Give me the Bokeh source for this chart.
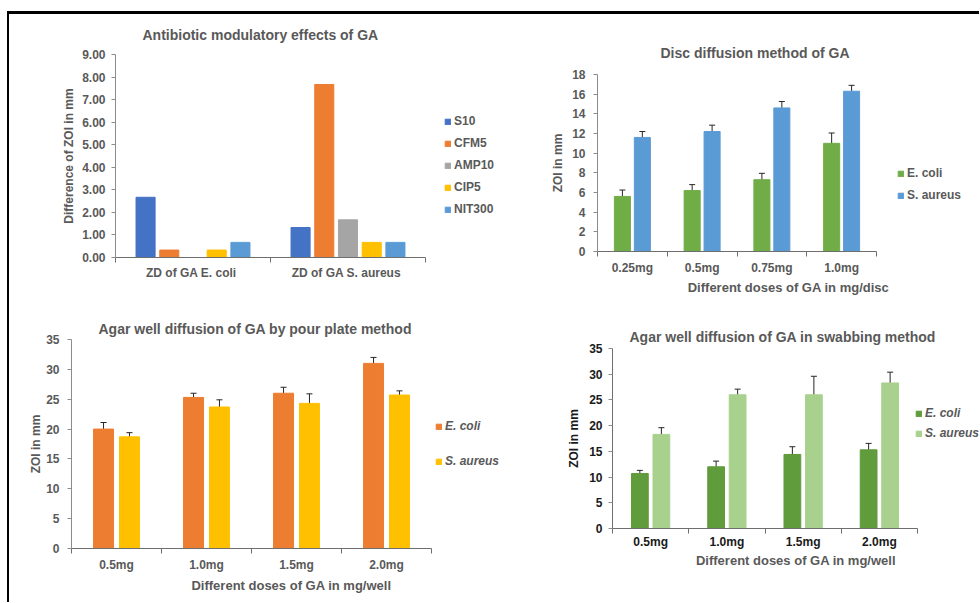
from bokeh.plotting import figure
from bokeh.models import (Range1d, FixedTicker, ColumnDataSource, Whisker, TeeHead,
                          Legend, LegendItem, PrintfTickFormatter)
from bokeh.layouts import column, row
from bokeh.embed import file_html
from bokeh.resources import INLINE
import numpy as np

# ---------------- data ----------------
# Chart 1: Antibiotic modulatory effects of GA
c1_categories = ["ZD of GA  E. coli", "ZD of GA  S. aureus"]
c1_series = ["S10", "CFM5", "AMP10", "CIP5", "NIT300"]
c1_values = {
    "S10":    [2.67, 1.33],
    "CFM5":   [0.33, 7.67],
    "AMP10":  [0.00, 1.67],
    "CIP5":   [0.33, 0.67],
    "NIT300": [0.67, 0.67],
}
c1_colors = ["#4472C4", "#ED7D31", "#A5A5A5", "#FFC000", "#5B9BD5"]

# Chart 2: Disc diffusion method of GA
c2_doses = ["0.25mg", "0.5mg", "0.75mg", "1.0mg"]
c2_ecoli = [5.6, 6.2, 7.3, 11.0]
c2_ecoli_err = [0.65, 0.6, 0.65, 1.05]
c2_saureus = [11.6, 12.2, 14.6, 16.3]
c2_saureus_err = [0.6, 0.65, 0.65, 0.6]

# Chart 3: Agar well diffusion of GA by pour plate method
c3_doses = ["0.5mg", "1.0mg", "1.5mg", "2.0mg"]
c3_ecoli = [20.0, 25.3, 26.0, 31.0]
c3_ecoli_err = [1.1, 0.7, 1.0, 1.0]
c3_saureus = [18.7, 23.7, 24.3, 25.7]
c3_saureus_err = [0.7, 1.2, 1.6, 0.7]

# Chart 4: Agar well diffusion of GA in swabbing method
c4_doses = ["0.5mg", "1.0mg", "1.5mg", "2.0mg"]
c4_ecoli = [10.7, 12.0, 14.4, 15.3]
c4_ecoli_err = [0.6, 1.1, 1.5, 1.25]
c4_saureus = [18.3, 26.0, 26.0, 28.3]
c4_saureus_err = [1.3, 1.1, 3.6, 2.1]

GREY = "#595959"
FONT = "Liberation Sans"


def base_fig(w, h, ml, mt, mb, ymax, ystep, ncat, axis_px, title, title_standoff, title_offset, title_lift=0):
    # the frame runs to the right edge of the figure; the category axis
    # covers only its first axis_px pixels, the rest holds the legend
    frame_w = w - ml
    x_end = ncat * frame_w / axis_px
    p = figure(width=w, height=h, output_backend="svg", toolbar_location=None,
               x_range=Range1d(0, x_end), y_range=Range1d(0, ymax),
               min_border_left=ml, min_border_right=0,
               min_border_top=mt, min_border_bottom=mb,
               title=title, frame_align=False)
    p.outline_line_color = None
    p.grid.visible = False
    p.title.align = "left"
    p.title.text_font = FONT
    p.title.text_font_size = "14px"
    p.title.text_font_style = "bold"
    p.title.text_color = GREY
    p.title.standoff = title_standoff
    p.title.offset = title_offset
    if title_lift:
        p.title.padding = dict(left=0, right=0, top=0, bottom=title_lift)
    # y axis
    ya = p.yaxis[0]
    ya.ticker = FixedTicker(ticks=list(np.arange(0, ymax + ystep / 2, ystep)))
    ya.axis_line_color = "#8C8C8C"
    ya.major_tick_line_color = "#8C8C8C"
    ya.major_tick_out = 4
    ya.major_tick_in = 0
    ya.minor_tick_line_color = None
    ya.major_label_text_font = FONT
    ya.major_label_text_font_size = "12px"
    ya.major_label_text_font_style = "bold"
    ya.major_label_text_color = GREY
    ya.axis_label_text_font = FONT
    ya.axis_label_text_font_size = "12px"
    ya.axis_label_text_font_style = "bold"
    ya.axis_label_text_color = GREY
    # x axis: labels at centres, ticks at boundaries
    xa = p.xaxis[0]
    xa.bounds = (0, ncat)
    centres = [i + 0.5 for i in range(ncat)]
    xa.ticker = FixedTicker(ticks=centres, minor_ticks=list(range(ncat + 1)))
    xa.axis_line_color = "#6E6E6E"
    xa.major_tick_line_color = None
    xa.major_tick_out = 0
    xa.major_tick_in = 0
    xa.minor_tick_line_color = "#6E6E6E"
    xa.minor_tick_out = 5
    xa.minor_tick_in = 0
    xa.major_label_text_font = FONT
    xa.major_label_text_font_size = "12px"
    xa.major_label_text_font_style = "bold"
    xa.major_label_text_color = GREY
    xa.axis_label_text_font = FONT
    xa.axis_label_text_font_size = "13px"
    xa.axis_label_text_font_style = "bold"
    xa.axis_label_text_color = GREY
    return p


def add_legend(p, items, loc, label_height, spacing, italic=False):
    lg = Legend(items=items, location=loc, orientation="vertical",
                glyph_width=7, glyph_height=7, label_height=label_height,
                spacing=spacing, padding=0, margin=0, label_standoff=3,
                border_line_color=None, background_fill_alpha=0)
    lg.label_text_font = FONT
    lg.label_text_font_size = "12px"
    lg.label_text_font_style = "bold italic" if italic else "bold"
    lg.label_text_color = GREY
    p.add_layout(lg, "center")


def two_series(p, doses, v1, e1, v2, e2, col1, col2, width, off, names, err_color):
    n = len(doses)
    centres = np.arange(n) + 0.5
    s1 = ColumnDataSource(dict(x=centres - off, top=v1, up=np.array(v1) + np.array(e1), lo=np.array(v1) - np.array(e1)))
    s2 = ColumnDataSource(dict(x=centres + off, top=v2, up=np.array(v2) + np.array(e2), lo=np.array(v2) - np.array(e2)))
    r1 = p.vbar(x="x", top="top", width=width, bottom=0, source=s1, fill_color=col1, line_color=col1)
    r2 = p.vbar(x="x", top="top", width=width, bottom=0, source=s2, fill_color=col2, line_color=col2)
    for s in (s1, s2):
        w = Whisker(source=s, base="x", upper="up", lower="lo", line_color=err_color, line_width=1,
                    upper_head=TeeHead(size=6, line_color=err_color, line_width=1),
                    lower_head=TeeHead(size=6, line_color=err_color, line_width=1))
        p.add_layout(w)
    p.xaxis[0].major_label_overrides = {float(c): d for c, d in zip(centres, doses)}
    return [LegendItem(label=names[0], renderers=[r1]), LegendItem(label=names[1], renderers=[r2])]


# ---------------- chart 1 ----------------
p1 = base_fig(500, 286, 106, 40, 43, 9, 1, 2, 310, "Antibiotic modulatory effects of GA", 13, 27, 5)
p1.yaxis[0].formatter = PrintfTickFormatter(format="%.2f")
p1.yaxis[0].axis_label = "Difference of ZOI in mm"
p1.yaxis[0].major_label_standoff = 6
p1.yaxis[0].axis_label_standoff = 3
p1.xaxis[0].major_label_standoff = 3
c1_centres = np.arange(len(c1_categories)) + 0.5
c1_items = []
pitch = 0.153
for k, (name, col) in enumerate(zip(c1_series, c1_colors)):
    xs = c1_centres + (k - 2) * pitch
    r = p1.vbar(x=xs, top=c1_values[name], width=0.123, bottom=0, fill_color=col, line_color=col)
    c1_items.append(LegendItem(label=name, renderers=[r]))
p1.xaxis[0].major_label_overrides = {float(c): d for c, d in zip(c1_centres, c1_categories)}
add_legend(p1, c1_items, (329, 40), 16, 6)

# ---------------- chart 2 ----------------
p2 = base_fig(470, 286, 88, 60, 49, 18, 2, 4, 279, "Disc diffusion method of GA", 17, 63, 5)
p2.yaxis[0].axis_label = "ZOI in mm"
p2.yaxis[0].major_label_standoff = 8
p2.yaxis[0].axis_label_standoff = 4
p2.xaxis[0].axis_label = "Different doses of GA in mg/disc"
p2.xaxis[0].major_label_standoff = 4
p2.xaxis[0].axis_label_standoff = 2
it2 = two_series(p2, c2_doses, c2_ecoli, c2_ecoli_err, c2_saureus, c2_saureus_err,
                 "#70AD47", "#5B9BD5", 0.23, 0.143, ["E. coli", "S. aureus"], "#262626")
add_legend(p2, it2, (300, 48), 16, 6)

# ---------------- chart 3 ----------------
p3 = base_fig(502, 302, 62, 39, 54, 35, 5, 4, 360, "Agar well diffusion of GA by pour plate method", 6, 27)
p3.yaxis[0].axis_label = "ZOI in mm"
p3.yaxis[0].major_label_standoff = 8
p3.yaxis[0].axis_label_standoff = 0
p3.xaxis[0].axis_label = "Different doses of GA in mg/well"
p3.xaxis[0].major_label_standoff = 4
p3.xaxis[0].axis_label_standoff = 3
it3 = two_series(p3, c3_doses, c3_ecoli, c3_ecoli_err, c3_saureus, c3_saureus_err,
                 "#ED7D31", "#FFC000", 0.222, 0.144, ["E. coli", "S. aureus"], "#262626")
add_legend(p3, it3, (364, 79), 16, 19, italic=True)

# ---------------- chart 4 ----------------
p4 = base_fig(468, 302, 101, 48, 74, 35, 5, 4, 305, "Agar well diffusion of GA in swabbing method", 7, 17)
p4.yaxis[0].axis_label = "ZOI in mm"
p4.yaxis[0].major_label_text_color = "#1A1A1A"
p4.yaxis[0].axis_label_text_color = "#1A1A1A"
p4.xaxis[0].major_label_text_color = "#1A1A1A"
p4.yaxis[0].axis_line_color = "#6E6E6E"
p4.yaxis[0].major_label_standoff = 6
p4.yaxis[0].axis_label_standoff = 5
p4.xaxis[0].axis_label = "Different doses of GA in mg/well"
p4.xaxis[0].major_label_standoff = 1
p4.xaxis[0].axis_label_standoff = 1
it4 = two_series(p4, c4_doses, c4_ecoli, c4_ecoli_err, c4_saureus, c4_saureus_err,
                 "#609B3C", "#A9D18E", 0.22, 0.141, ["E. coli", "S. aureus"], "#262626")
add_legend(p4, it4, (303, 88), 14, 6, italic=True)

layout = column(row(p1, p2, spacing=0), row(p3, p4, spacing=0), spacing=0,
                styles={"border-top": "3px solid #000000", "border-left": "2px solid #000000",
                        "margin-top": "11px", "margin-left": "7px"})

open("out.html", "w").write(file_html(layout, INLINE))
